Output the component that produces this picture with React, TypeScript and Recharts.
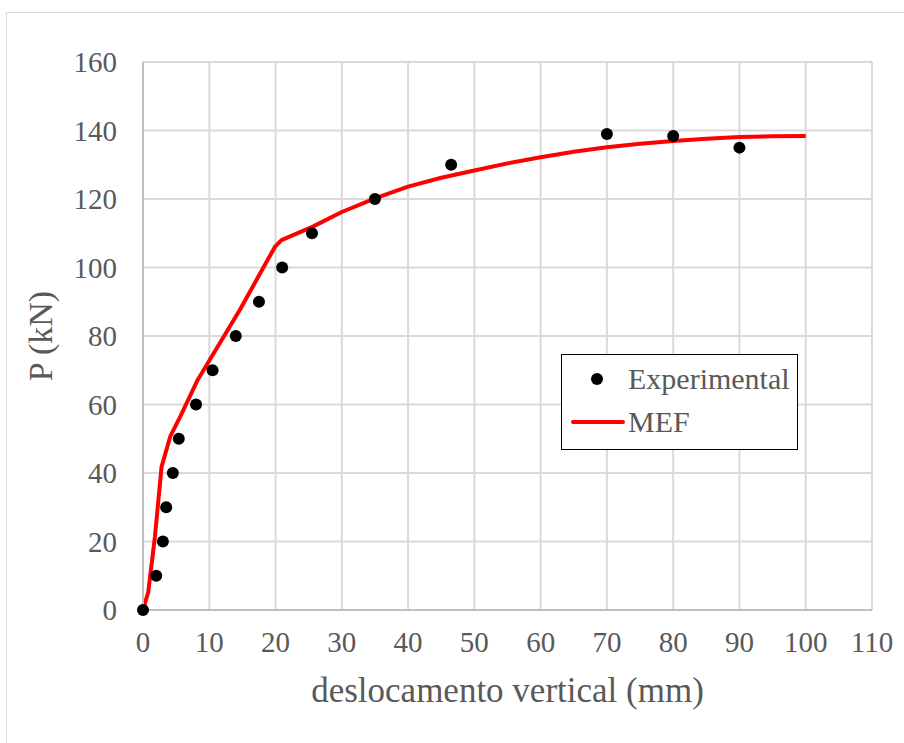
import {
  ComposedChart,
  Line,
  Scatter,
  XAxis,
  YAxis,
  CartesianGrid,
  Legend,
} from 'recharts';

// Experimental points
const expX = [0, 2, 3, 3.5, 4.5, 5.4, 8, 10.5, 14, 17.5, 21, 25.5, 35, 46.5, 70, 80, 90];
const expP = [0, 10, 20, 30, 40, 50, 60, 70, 80, 90, 100, 110, 120, 130, 139, 138.4, 135];

// MEF curve
const mefX = [0, 0.8, 1.8, 2.8, 4.1, 5.6, 8.2, 14.6, 19.9, 20.9, 25.7, 30, 35, 40, 45, 50, 55, 60, 65, 70, 75, 80, 85, 90, 95, 100];
const mefP = [0, 5.3, 21.4, 41.8, 50.6, 56.4, 67, 87.6, 106, 108, 112, 116.2, 120.2, 123.6, 126.2, 128.3, 130.4, 132.2, 133.8, 135.1, 136.1, 136.9, 137.6, 138.1, 138.3, 138.4];

const xTicks = [0, 10, 20, 30, 40, 50, 60, 70, 80, 90, 100, 110];
const yTicks = [0, 20, 40, 60, 80, 100, 120, 140, 160];

const expData = expX.map((x, i) => ({ x, p: expP[i] }));
const mefData = mefX.map((x, i) => ({ x, p: mefP[i] }));

const FONT = '"Liberation Serif", "Times New Roman", serif';
const GREY = '#595959';

const renderLegend = () => (
  <div
    style={{
      width: 235,
      height: 94,
      border: '1px solid #000',
      background: '#fff',
      fontFamily: FONT,
      fontSize: 30,
      color: GREY,
      boxSizing: 'content-box',
      lineHeight: 1,
    }}
  >
    <div style={{ display: 'flex', alignItems: 'center', height: 47 }}>
      <svg width={66} height={20}>
        <circle cx={35} cy={10} r={6} fill="#000" />
      </svg>
      <span>Experimental</span>
    </div>
    <div style={{ display: 'flex', alignItems: 'center', height: 40 }}>
      <svg width={66} height={20}>
        <line x1={11} y1={10} x2={61} y2={10} stroke="#ff0000" strokeWidth={4} strokeLinecap="round" />
      </svg>
      <span>MEF</span>
    </div>
  </div>
);

export default function App() {
  return (
    <div style={{ position: 'absolute', left: 0, top: 0, width: 904, height: 743, background: '#fff', overflow: 'hidden' }}>
      <div
        style={{
          position: 'absolute',
          left: 6,
          top: 12,
          width: 910,
          height: 740,
          border: '1px solid #d9d9d9',
        }}
      />
      <div style={{ position: 'absolute', left: 0, top: 0 }}>
        <ComposedChart
          width={904}
          height={743}
          margin={{ top: 62, right: 32, left: 0, bottom: 0 }}
        >
          <CartesianGrid stroke="#d9d9d9" strokeWidth={2} />
          <XAxis
            dataKey="x"
            type="number"
            domain={[0, 110]}
            ticks={xTicks}
            interval={0}
            height={133}
            stroke="#bfbfbf"
            strokeWidth={2}
            tickLine={false}
            tickSize={0}
            tickMargin={21}
            tick={{ fill: GREY, fontSize: 29, fontFamily: FONT }}
            label={{
              value: 'deslocamento vertical (mm)',
              position: 'insideBottom',
              offset: 41,
              fill: GREY,
              fontSize: 35,
              fontFamily: FONT,
            }}
          />
          <YAxis
            dataKey="p"
            type="number"
            domain={[0, 160]}
            ticks={yTicks}
            interval={0}
            width={143}
            stroke="#bfbfbf"
            strokeWidth={2}
            tickLine={false}
            tickSize={0}
            tickMargin={26}
            tick={{ fill: GREY, fontSize: 29, fontFamily: FONT }}
            label={{
              value: 'P (kN)',
              angle: -90,
              position: 'insideLeft',
              offset: 40,
              fill: GREY,
              fontSize: 34,
              fontFamily: FONT,
              style: { textAnchor: 'middle' },
            }}
          />
          <Legend
            layout="vertical"
            align="center"
            verticalAlign="middle"
            content={renderLegend}
            wrapperStyle={{ left: 561, top: 354, width: 237, height: 96 }}
          />
          <Scatter
            name="Experimental"
            data={expData}
            dataKey="p"
            fill="#000"
            shape={(props: any) => <circle cx={props.cx} cy={props.cy} r={6} fill="#000" />}
            isAnimationActive={false}
          />
          <Line
            name="MEF"
            data={mefData}
            dataKey="p"
            type="linear"
            stroke="#ff0000"
            strokeWidth={4}
            strokeLinejoin="round"
            dot={false}
            activeDot={false}
            isAnimationActive={false}
          />
        </ComposedChart>
      </div>
    </div>
  );
}
